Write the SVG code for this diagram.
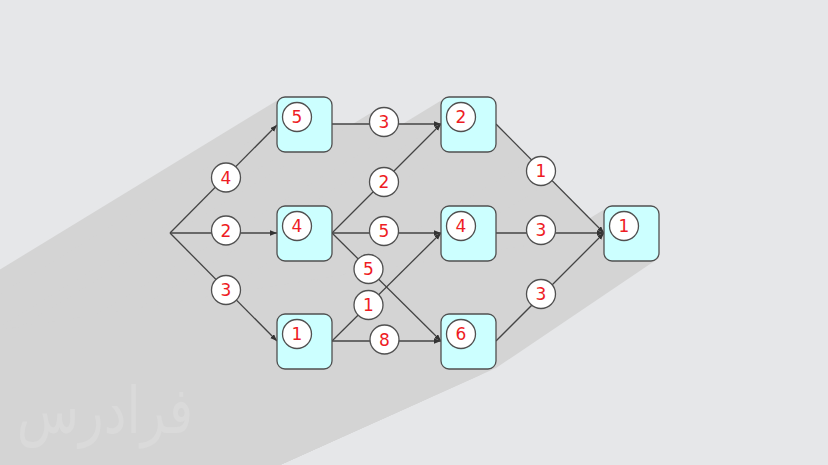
<svg xmlns="http://www.w3.org/2000/svg" width="828" height="465" viewBox="0 0 828 465">
<style>
.sh{fill:#d4d4d4}
.box{fill:#ccffff;stroke:#505050;stroke-width:1.3}
.cir{fill:#ffffff;stroke:#505050;stroke-width:1.3}
.edge{fill:none;stroke:#444444;stroke-width:1.3}
.lbl{font-family:"DejaVu Sans",sans-serif;font-size:17px;fill:#ee1c24;text-anchor:middle}
.wm{font-family:"DejaVu Sans",sans-serif;font-size:58px;fill:#dadada;text-anchor:middle}
</style>
<defs>
<marker id="arr" markerUnits="userSpaceOnUse" markerWidth="8" markerHeight="6" refX="7" refY="2.75" orient="auto">
<path d="M0,0 L7,2.75 L0,5.5 z" fill="#333333"/>
</marker>
<clipPath id="shclip">
<polygon points="0,0 828,0 828,230 659,258 496,368 280,465 0,465"/>
</clipPath>
</defs>
<rect x="0" y="0" width="828" height="465" fill="#e6e7e9"/>
<g id="shadow">
<g clip-path="url(#shclip)">
<polygon class="sh" points="280.8,98.2 328.2,150.8 -571.8,699.8 -619.2,647.2"/>
<polygon class="sh" points="280.8,207.2 328.2,259.8 -571.8,808.8 -619.2,756.2"/>
<polygon class="sh" points="280.8,315.2 328.2,367.8 -571.8,916.8 -619.2,864.2"/>
<polygon class="sh" points="444.8,98.2 492.2,150.8 -407.8,699.8 -455.2,647.2"/>
<polygon class="sh" points="444.8,207.2 492.2,259.8 -407.8,808.8 -455.2,756.2"/>
<polygon class="sh" points="444.8,315.2 492.2,367.8 -407.8,916.8 -455.2,864.2"/>
<polygon class="sh" points="607.8,207.2 655.2,259.8 -244.8,808.8 -292.2,756.2"/>
<polygon class="sh" points="170,233 277,125 -623,674 -730,782"/>
<polygon class="sh" points="170,233 277,233 -623,782 -730,782"/>
<polygon class="sh" points="170,233 277,341 -623,890 -730,782"/>
<polygon class="sh" points="332,124 441,124 -459,673 -568,673"/>
<polygon class="sh" points="332,233 441,124 -459,673 -568,782"/>
<polygon class="sh" points="332,233 441,341 -459,890 -568,782"/>
<polygon class="sh" points="496,124 604,233 -296,782 -404,673"/>
<polygon class="sh" points="496,233 604,233 -296,782 -404,782"/>
<polygon class="sh" points="496,341 604,233 -296,782 -404,890"/>
<polygon class="sh" points="376.45,109.62 391.55,134.38 -508.45,683.38 -523.55,658.62"/>
<polygon class="sh" points="533.45,158.62 548.55,183.38 -351.45,732.38 -366.55,707.62"/>
</g>
<polygon class="sh" points="604,233 659,258 496,368 280,465 0,465 0,330"/>
</g>
<text class="wm" x="0" y="0" transform="translate(105,433) scale(0.88,1.12)">فرادرس</text>
<g id="connectors">
<line class="edge" x1="170" y1="233" x2="277" y2="125" marker-end="url(#arr)"/>
<line class="edge" x1="170" y1="233" x2="277" y2="233" marker-end="url(#arr)"/>
<line class="edge" x1="170" y1="233" x2="277" y2="341" marker-end="url(#arr)"/>
<line class="edge" x1="332" y1="124" x2="441" y2="124" marker-end="url(#arr)"/>
<line class="edge" x1="332" y1="233" x2="441" y2="124" marker-end="url(#arr)"/>
<line class="edge" x1="332" y1="233" x2="441" y2="233" marker-end="url(#arr)"/>
<line class="edge" x1="332" y1="233" x2="441" y2="341" marker-end="url(#arr)"/>
<line class="edge" x1="332" y1="341" x2="441" y2="233" marker-end="url(#arr)"/>
<line class="edge" x1="332" y1="341" x2="441" y2="341" marker-end="url(#arr)"/>
<line class="edge" x1="496" y1="124" x2="604" y2="233" marker-end="url(#arr)"/>
<line class="edge" x1="496" y1="233" x2="604" y2="233" marker-end="url(#arr)"/>
<line class="edge" x1="496" y1="341" x2="604" y2="233" marker-end="url(#arr)"/>
<g id="edge-labels">
<circle class="cir" cx="226" cy="177.5" r="14.5"/><text class="lbl" x="226" y="183.5">4</text>
<circle class="cir" cx="226" cy="230.5" r="14.5"/><text class="lbl" x="226" y="236.5">2</text>
<circle class="cir" cx="226" cy="290" r="14.5"/><text class="lbl" x="226" y="296">3</text>
<circle class="cir" cx="384" cy="122" r="14.5"/><text class="lbl" x="384" y="128">3</text>
<circle class="cir" cx="384" cy="182" r="14.5"/><text class="lbl" x="384" y="188">2</text>
<circle class="cir" cx="384" cy="231" r="14.5"/><text class="lbl" x="384" y="237">5</text>
<circle class="cir" cx="368.5" cy="269" r="14.5"/><text class="lbl" x="368.5" y="275">5</text>
<circle class="cir" cx="368.5" cy="305" r="14.5"/><text class="lbl" x="368.5" y="311">1</text>
<circle class="cir" cx="384.5" cy="339.5" r="14.5"/><text class="lbl" x="384.5" y="345.5">8</text>
<circle class="cir" cx="541" cy="171" r="14.5"/><text class="lbl" x="541" y="177">1</text>
<circle class="cir" cx="541" cy="230" r="14.5"/><text class="lbl" x="541" y="236">3</text>
<circle class="cir" cx="541" cy="294" r="14.5"/><text class="lbl" x="541" y="300">3</text>
</g>
</g>
<g id="node-a"><rect class="box" x="277" y="97" width="55" height="55" rx="8"/><circle class="cir" cx="297" cy="117" r="14.5"/><text class="lbl" x="297" y="123">5</text></g>
<g id="node-b"><rect class="box" x="277" y="206" width="55" height="55" rx="8"/><circle class="cir" cx="297" cy="226" r="14.5"/><text class="lbl" x="297" y="232">4</text></g>
<g id="node-c"><rect class="box" x="277" y="314" width="55" height="55" rx="8"/><circle class="cir" cx="297" cy="334" r="14.5"/><text class="lbl" x="297" y="340">1</text></g>
<g id="node-d"><rect class="box" x="441" y="97" width="55" height="55" rx="8"/><circle class="cir" cx="461" cy="117" r="14.5"/><text class="lbl" x="461" y="123">2</text></g>
<g id="node-e"><rect class="box" x="441" y="206" width="55" height="55" rx="8"/><circle class="cir" cx="461" cy="226" r="14.5"/><text class="lbl" x="461" y="232">4</text></g>
<g id="node-f"><rect class="box" x="441" y="314" width="55" height="55" rx="8"/><circle class="cir" cx="461" cy="334" r="14.5"/><text class="lbl" x="461" y="340">6</text></g>
<g id="node-g"><rect class="box" x="604" y="206" width="55" height="55" rx="8"/><circle class="cir" cx="624" cy="226" r="14.5"/><text class="lbl" x="624" y="232">1</text></g>
</svg>
